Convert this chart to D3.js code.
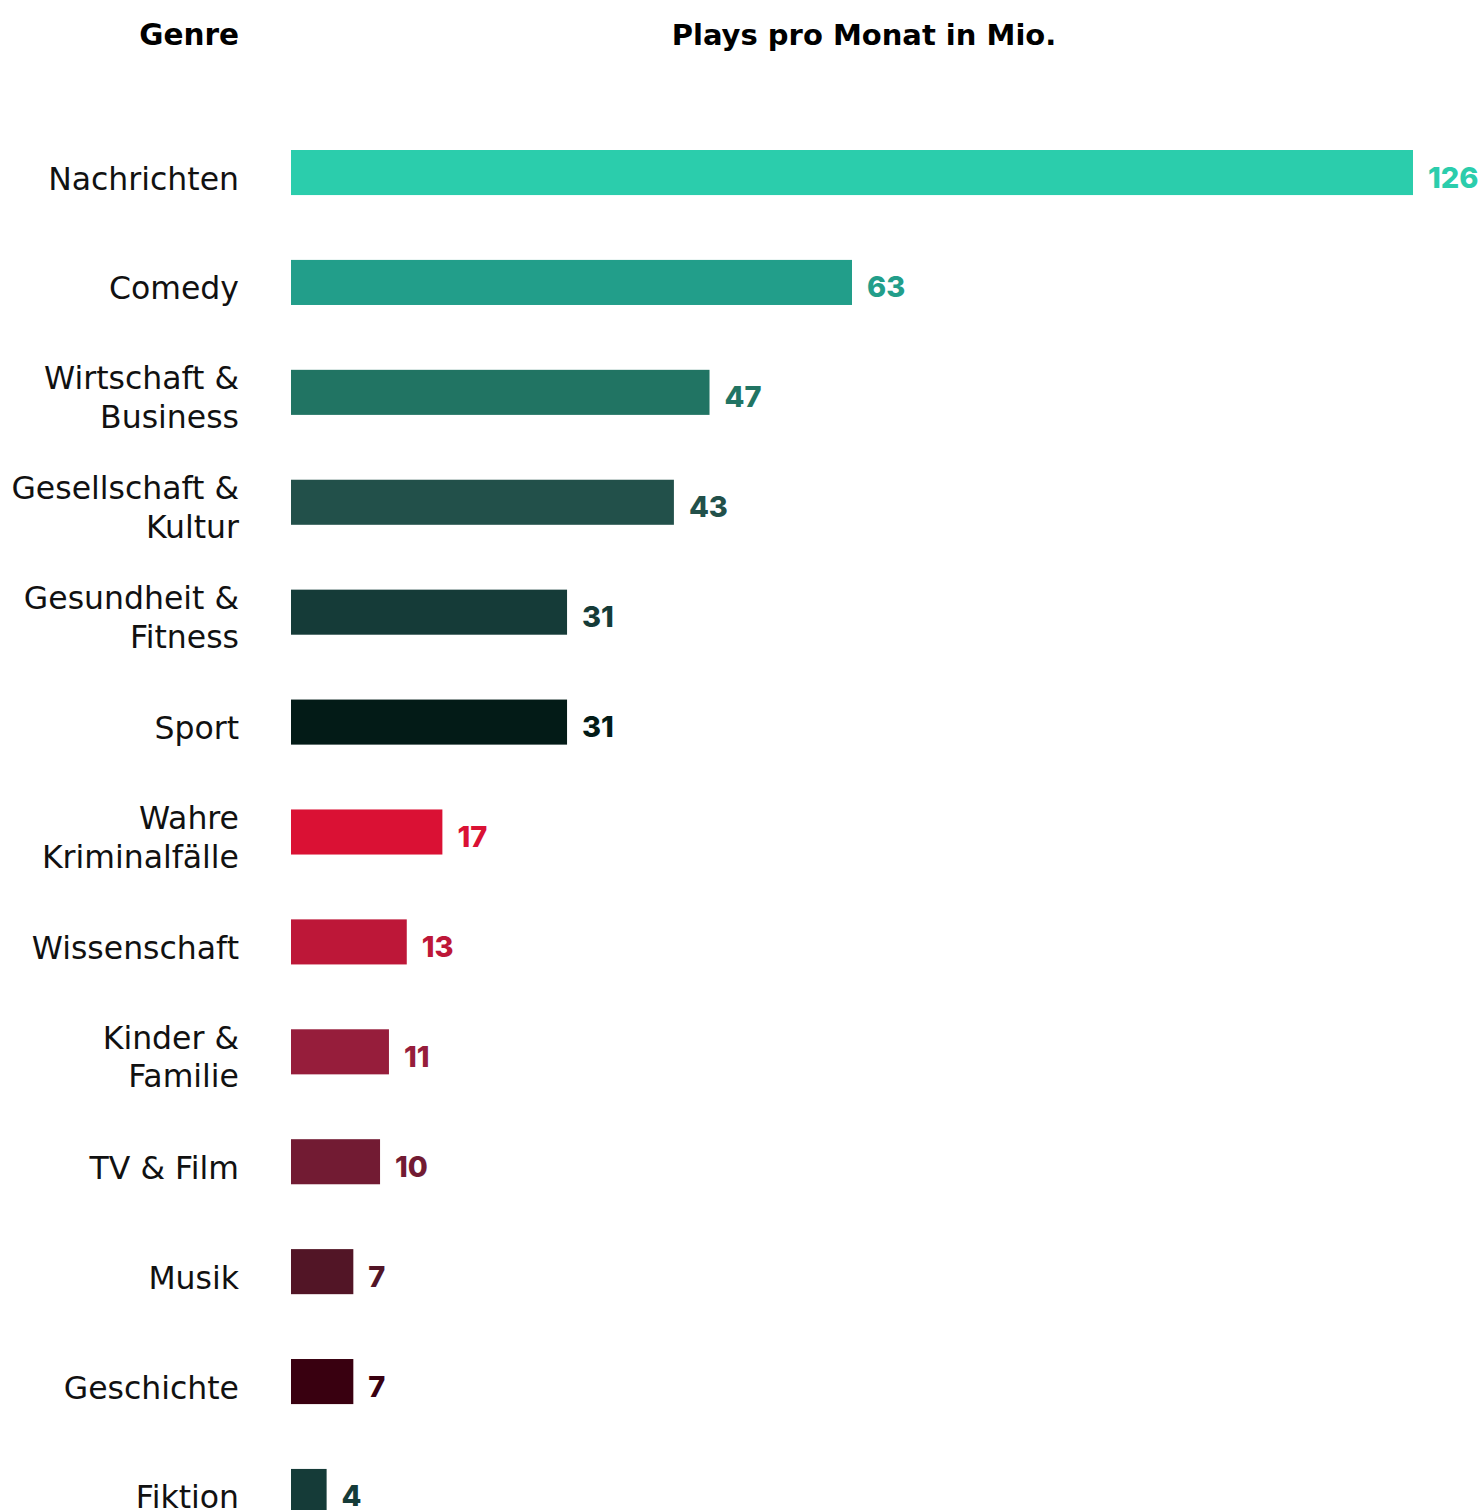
<!DOCTYPE html>
<html>
<head>
<meta charset="utf-8">
<script src="https://cdn.jsdelivr.net/npm/d3@7"></script>
<style>
  html, body { margin: 0; padding: 0; background: #ffffff; }
  svg { display: block; }
  text { font-family: "DejaVu Sans", sans-serif; }
  text.value { font-family: Inter, "DejaVu Sans", sans-serif; }
</style>
</head>
<body>
<div id="chart"></div>
<script>
// Podcast genres and monthly plays (millions)
const genres = [
  "Nachrichten",
  "Comedy",
  "Wirtschaft &\nBusiness",
  "Gesellschaft &\nKultur",
  "Gesundheit &\nFitness",
  "Sport",
  "Wahre\nKriminalfälle",
  "Wissenschaft",
  "Kinder &\nFamilie",
  "TV & Film",
  "Musik",
  "Geschichte",
  "Fiktion"
];
const plays = [126, 63, 47, 43, 31, 31, 17, 13, 11, 10, 7, 7, 4];
const barColors = [
  "#2bcdac", "#229e8a", "#217463", "#22504a", "#153b38", "#031b17",
  "#da1134", "#bd1738", "#961d3b", "#721b33", "#521526", "#390010", "#153b38"
];
const genreTitle = "Genre";
const valueTitle = "Plays pro Monat in Mio.";

const width = 1481, height = 1510;
const labelRight = 239;
const plotLeft = 291, plotRight = 1437;

const svg = d3.select("#chart").append("svg")
  .attr("width", width)
  .attr("height", height);

const x = d3.scaleLinear()
  .domain([0, 126])
  .range([plotLeft, 1413]);

const y = d3.scaleBand()
  .domain(genres)
  .range([150, 1514])
  .paddingInner(0.59)
  .paddingOuter(0);

// column headers
svg.append("text")
  .attr("x", labelRight)
  .attr("y", 45)
  .attr("text-anchor", "end")
  .attr("font-size", 29.5)
  .attr("font-weight", 700)
  .attr("fill", "#000")
  .text(genreTitle);

svg.append("text")
  .attr("x", (plotLeft + plotRight) / 2)
  .attr("y", 45)
  .attr("text-anchor", "middle")
  .attr("font-size", 29)
  .attr("font-weight", 700)
  .attr("fill", "#000")
  .text(valueTitle);

const rows = svg.append("g")
  .selectAll("g")
  .data(genres.map((g, i) => ({ genre: g, value: plays[i], color: barColors[i] })))
  .join("g");

rows.append("rect")
  .attr("x", x(0))
  .attr("y", d => y(d.genre))
  .attr("width", d => x(d.value) - x(0))
  .attr("height", y.bandwidth())
  .attr("fill", d => d.color);

// value labels at the end of each bar
rows.append("text")
  .attr("class", "value")
  .attr("x", d => x(d.value) + 15)
  .attr("y", d => y(d.genre) + y.bandwidth() / 2 + 15)
  .attr("font-size", 29)
  .attr("font-weight", 800)
  .attr("fill", d => d.color)
  .text(d => d.value);

// genre labels, right-aligned, one or two lines
rows.append("text")
  .attr("text-anchor", "end")
  .attr("font-size", 31.5)
  .attr("fill", "#111")
  .each(function (d) {
    const lines = d.genre.split("\n");
    const c = y(d.genre) + y.bandwidth() / 2;
    const t = d3.select(this);
    if (lines.length === 1) {
      t.append("tspan").attr("x", labelRight).attr("y", c + 17).text(lines[0]);
    } else {
      lines.forEach((ln, k) => {
        t.append("tspan").attr("x", labelRight).attr("y", c - 3 + k * 38.5).text(ln);
      });
    }
  });
</script>
</body>
</html>
